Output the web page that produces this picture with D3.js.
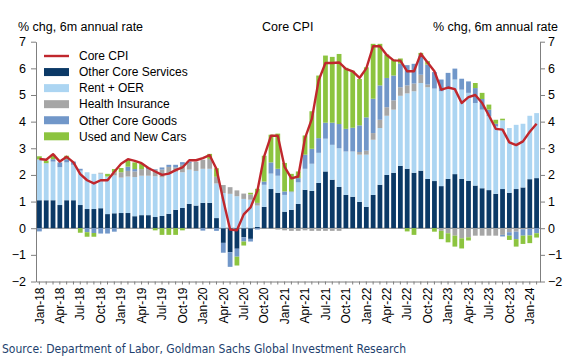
<!DOCTYPE html>
<html>
<head>
<meta charset="utf-8">
<script src="https://cdn.jsdelivr.net/npm/d3@7"></script>
<style>
body { margin: 0; background: #fff; }
text { font-family: "Liberation Sans", Arial, sans-serif; fill: #000; }
</style>
</head>
<body>
<div id="chart"></div>
<script>
const months = [
  "Jan-18","Feb-18","Mar-18","Apr-18","May-18","Jun-18","Jul-18","Aug-18","Sep-18","Oct-18","Nov-18","Dec-18",
  "Jan-19","Feb-19","Mar-19","Apr-19","May-19","Jun-19","Jul-19","Aug-19","Sep-19","Oct-19","Nov-19","Dec-19",
  "Jan-20","Feb-20","Mar-20","Apr-20","May-20","Jun-20","Jul-20","Aug-20","Sep-20","Oct-20","Nov-20","Dec-20",
  "Jan-21","Feb-21","Mar-21","Apr-21","May-21","Jun-21","Jul-21","Aug-21","Sep-21","Oct-21","Nov-21","Dec-21",
  "Jan-22","Feb-22","Mar-22","Apr-22","May-22","Jun-22","Jul-22","Aug-22","Sep-22","Oct-22","Nov-22","Dec-22",
  "Jan-23","Feb-23","Mar-23","Apr-23","May-23","Jun-23","Jul-23","Aug-23","Sep-23","Oct-23","Nov-23","Dec-23",
  "Jan-24","Feb-24"
];

const otherServices = [
  1.05,1.05,1.05,0.87,1.05,1.05,0.87,0.72,0.72,0.75,0.53,0.56,
  0.57,0.57,0.45,0.49,0.49,0.42,0.46,0.54,0.69,0.76,0.91,0.85,
  0.95,0.95,0.38,-0.55,-0.9,-0.77,-0.34,-0.4,0.05,0.8,1.47,1.33,
  0.62,0.69,0.91,1.44,1.4,1.7,2.13,1.82,1.55,1.25,1.18,0.99,
  0.8,1.25,1.63,2.0,2.08,2.34,2.23,2.08,2.16,1.85,1.77,1.58,
  1.85,2.03,1.85,1.78,1.6,1.5,1.43,1.29,1.47,1.33,1.47,1.53,
  1.84,1.88
];
const rentOER = [
  1.53,1.39,1.45,1.42,1.42,1.33,1.29,1.38,1.32,1.3,1.41,1.42,
  1.33,1.37,1.47,1.48,1.48,1.53,1.45,1.52,1.43,1.34,1.29,1.3,
  1.28,1.28,1.3,1.32,1.29,1.2,1.1,1.07,0.8,0.83,0.58,0.64,
  0.63,0.66,0.81,0.79,1.02,1.13,1.23,1.31,1.45,1.63,1.7,1.77,
  1.96,2.07,2.13,2.22,2.37,2.63,2.83,3.06,3.29,3.44,3.47,3.56,
  3.44,3.55,3.35,3.3,3.1,2.95,2.77,2.53,2.58,2.43,2.41,2.39,
  2.38,2.44
];
const healthIns = [
  0,0,0,0,0,0,0,0,0,0.03,0,0.12,
  0.2,0.21,0.21,0.25,0.25,0.25,0.29,0.24,0.16,0.28,0.25,0.35,
  0.34,0.37,0.25,0.3,0.25,0.22,0.2,0.2,0.1,0,0,-0.05,
  -0.08,-0.1,-0.1,-0.08,-0.1,-0.1,-0.1,-0.1,-0.1,0,0,0.1,
  0.15,0.25,0.31,0.32,0.35,0.32,0.3,0.29,0.31,0.1,0,-0.1,
  -0.19,-0.28,-0.38,-0.34,-0.28,-0.28,-0.28,-0.28,-0.25,-0.15,-0.13,-0.04,
  -0.02,0
];
const otherGoods = [
  -0.12,0,0.09,0.18,0.12,0.12,0.07,-0.15,-0.18,-0.2,-0.2,-0.13,
  0,0.16,0.09,0,0.05,0.02,0.08,0.08,0.1,0.1,0.05,0,
  -0.09,0,-0.1,-0.37,-0.55,-0.3,-0.16,-0.1,-0.05,0.12,0.42,0.26,
  0.13,0.03,0.16,0.53,0.56,0.55,0.6,0.83,0.91,0.85,0.89,1.0,
  1.25,1.29,1.29,1.1,0.93,0.89,0.76,0.74,0.73,0.75,0.62,0.44,
  0.54,0.41,0.41,0.43,0.56,0.4,0.25,0.1,-0.06,-0.13,-0.28,-0.24,
  -0.25,-0.19
];
const usedNewCars = [
  0.12,0.1,0.17,0,0.13,0,-0.17,-0.17,-0.14,0,0.1,0.12,
  0.16,0.25,0.25,0.2,0,-0.08,-0.25,-0.25,-0.25,-0.08,0,0,
  0,0.19,0.32,0,0,-0.33,-0.15,0.06,0.53,0.97,1.04,1.32,
  1.07,0.66,0.25,0.72,1.41,2.35,2.52,2.47,2.63,2.29,2.14,1.74,
  1.88,2.06,1.56,0.88,0.6,0.19,-0.12,-0.25,0.09,0.13,-0.13,-0.31,
  -0.34,-0.41,-0.38,-0.12,0.19,0.23,0.19,0.15,0.06,-0.16,-0.28,-0.31,
  -0.29,-0.16
];
const coreCPI = [
  2.6,2.57,2.78,2.5,2.68,2.47,2.03,1.8,1.68,1.8,1.8,2.12,
  2.42,2.59,2.53,2.44,2.26,2.13,2.0,2.05,2.18,2.28,2.55,2.55,
  2.63,2.74,2.22,1.05,-0.05,-0.08,0.52,0.78,1.4,2.7,3.47,3.47,
  2.3,1.87,1.94,3.38,4.1,5.55,6.2,6.2,6.22,5.98,5.89,5.64,
  6.0,6.83,6.83,6.5,6.3,6.29,5.89,5.89,6.55,6.22,5.89,5.2,
  5.28,5.22,4.7,4.92,5.0,4.7,4.23,3.73,3.7,3.22,3.12,3.26,
  3.62,3.92
];

const yTicks = [-2, -1, 0, 1, 2, 3, 4, 5, 6, 7];
const seriesNames = ["Other Core Services", "Rent + OER", "Health Insurance", "Other Core Goods", "Used and New Cars"];
const seriesColors = ["#0b3966", "#acd5f2", "#a6a6a6", "#7197c9", "#8cc43f"];
const lineColor = "#c0272d";
const axisColor = "#7f7f7f";

const WIDTH = 580, HEIGHT = 364;
const svg = d3.select("#chart").append("svg")
  .attr("width", WIDTH)
  .attr("height", HEIGHT);

const x = d3.scaleBand().domain(months).range([36, 540]).paddingInner(0.3).paddingOuter(0.15);
const y = d3.scaleLinear().domain([-2, 7]).range([281.5, 41.7]);

// one row per month, keyed by series name
const series = [otherServices, rentOER, healthIns, otherGoods, usedNewCars];
const rows = months.map((m, i) => {
  const r = { month: m };
  seriesNames.forEach((k, j) => { r[k] = series[j][i]; });
  return r;
});
const stacked = d3.stack().keys(seriesNames).offset(d3.stackOffsetDiverging)(rows);

// zero line
svg.append("line")
  .attr("x1", 36).attr("x2", 540)
  .attr("y1", y(0)).attr("y2", y(0))
  .attr("stroke", axisColor).attr("stroke-width", 1);

svg.append("g")
  .selectAll("g")
  .data(stacked)
  .join("g")
  .attr("fill", (d, i) => seriesColors[i])
  .selectAll("rect")
  .data(d => d)
  .join("rect")
  .attr("x", d => x(d.data.month))
  .attr("width", x.bandwidth())
  .attr("y", d => y(Math.max(d[0], d[1])))
  .attr("height", d => Math.abs(y(d[0]) - y(d[1])));

// core CPI line
const line = d3.line()
  .x((d, i) => x(months[i]) + x.bandwidth() / 2)
  .y(d => y(d));
svg.append("path")
  .datum(coreCPI)
  .attr("d", line)
  .attr("fill", "none")
  .attr("stroke", lineColor)
  .attr("stroke-width", 2.4)
  .attr("stroke-linejoin", "round");

// axes
const fmt = d3.format("d");
const leftAxis = svg.append("g")
  .attr("transform", "translate(36,0)")
  .call(d3.axisLeft(y).tickValues(yTicks).tickFormat(fmt).tickSize(5).tickSizeOuter(0).tickPadding(5));
const rightAxis = svg.append("g")
  .attr("transform", "translate(540,0)")
  .call(d3.axisRight(y).tickValues(yTicks).tickFormat(fmt).tickSize(5).tickSizeOuter(0).tickPadding(3));
const bottomAxis = svg.append("g")
  .attr("transform", `translate(0,${y(-2)})`)
  .call(d3.axisBottom(x).tickSize(3).tickSizeOuter(0)
    .tickFormat((d, i) => i % 3 === 0 ? d : ""));

[leftAxis, rightAxis, bottomAxis].forEach(g => {
  g.select(".domain").attr("stroke", axisColor);
  g.selectAll(".tick line").attr("stroke", axisColor);
  g.selectAll("text").attr("font-size", 12.5).attr("fill", "#000")
    .style("font-family", '"Liberation Sans", Arial, sans-serif');
});
bottomAxis.selectAll("text")
  .attr("font-size", 12)
  .attr("transform", "rotate(-90)")
  .attr("text-anchor", "end")
  .attr("x", -6)
  .attr("y", 0)
  .attr("dy", "0.35em");

// titles
svg.append("text").attr("x", 18).attr("y", 31).attr("font-size", 12.5).text("% chg, 6m annual rate");
svg.append("text").attr("x", 262).attr("y", 31).attr("font-size", 12.5).text("Core CPI");
svg.append("text").attr("x", 558).attr("y", 31).attr("font-size", 12.5)
  .attr("text-anchor", "end").text("% chg, 6m annual rate");

// legend
const legend = svg.append("g").attr("transform", "translate(44,56)");
const legendItems = ["Core CPI"].concat(seriesNames);
legendItems.forEach((name, i) => {
  const g = legend.append("g").attr("transform", `translate(0,${i * 16.06})`);
  if (i === 0) {
    g.append("line").attr("x1", 0).attr("x2", 25).attr("y1", 0).attr("y2", 0)
      .attr("stroke", lineColor).attr("stroke-width", 2.4);
  } else {
    g.append("rect").attr("x", 0).attr("y", -4).attr("width", 25).attr("height", 8)
      .attr("fill", seriesColors[i - 1]);
  }
  g.append("text").attr("x", 35).attr("y", 4.3).attr("font-size", 12).text(name);
});

// source
svg.append("text")
  .attr("x", 2).attr("y", 353)
  .attr("font-size", 12.5)
  .attr("textLength", 404)
  .attr("lengthAdjust", "spacingAndGlyphs")
  .style("font-family", '"DejaVu Sans Condensed", "DejaVu Sans", sans-serif')
  .style("font-stretch", "condensed")
  .style("fill", "#1d3f6e")
  .text("Source: Department of Labor, Goldman Sachs Global Investment Research");
</script>
</body>
</html>
